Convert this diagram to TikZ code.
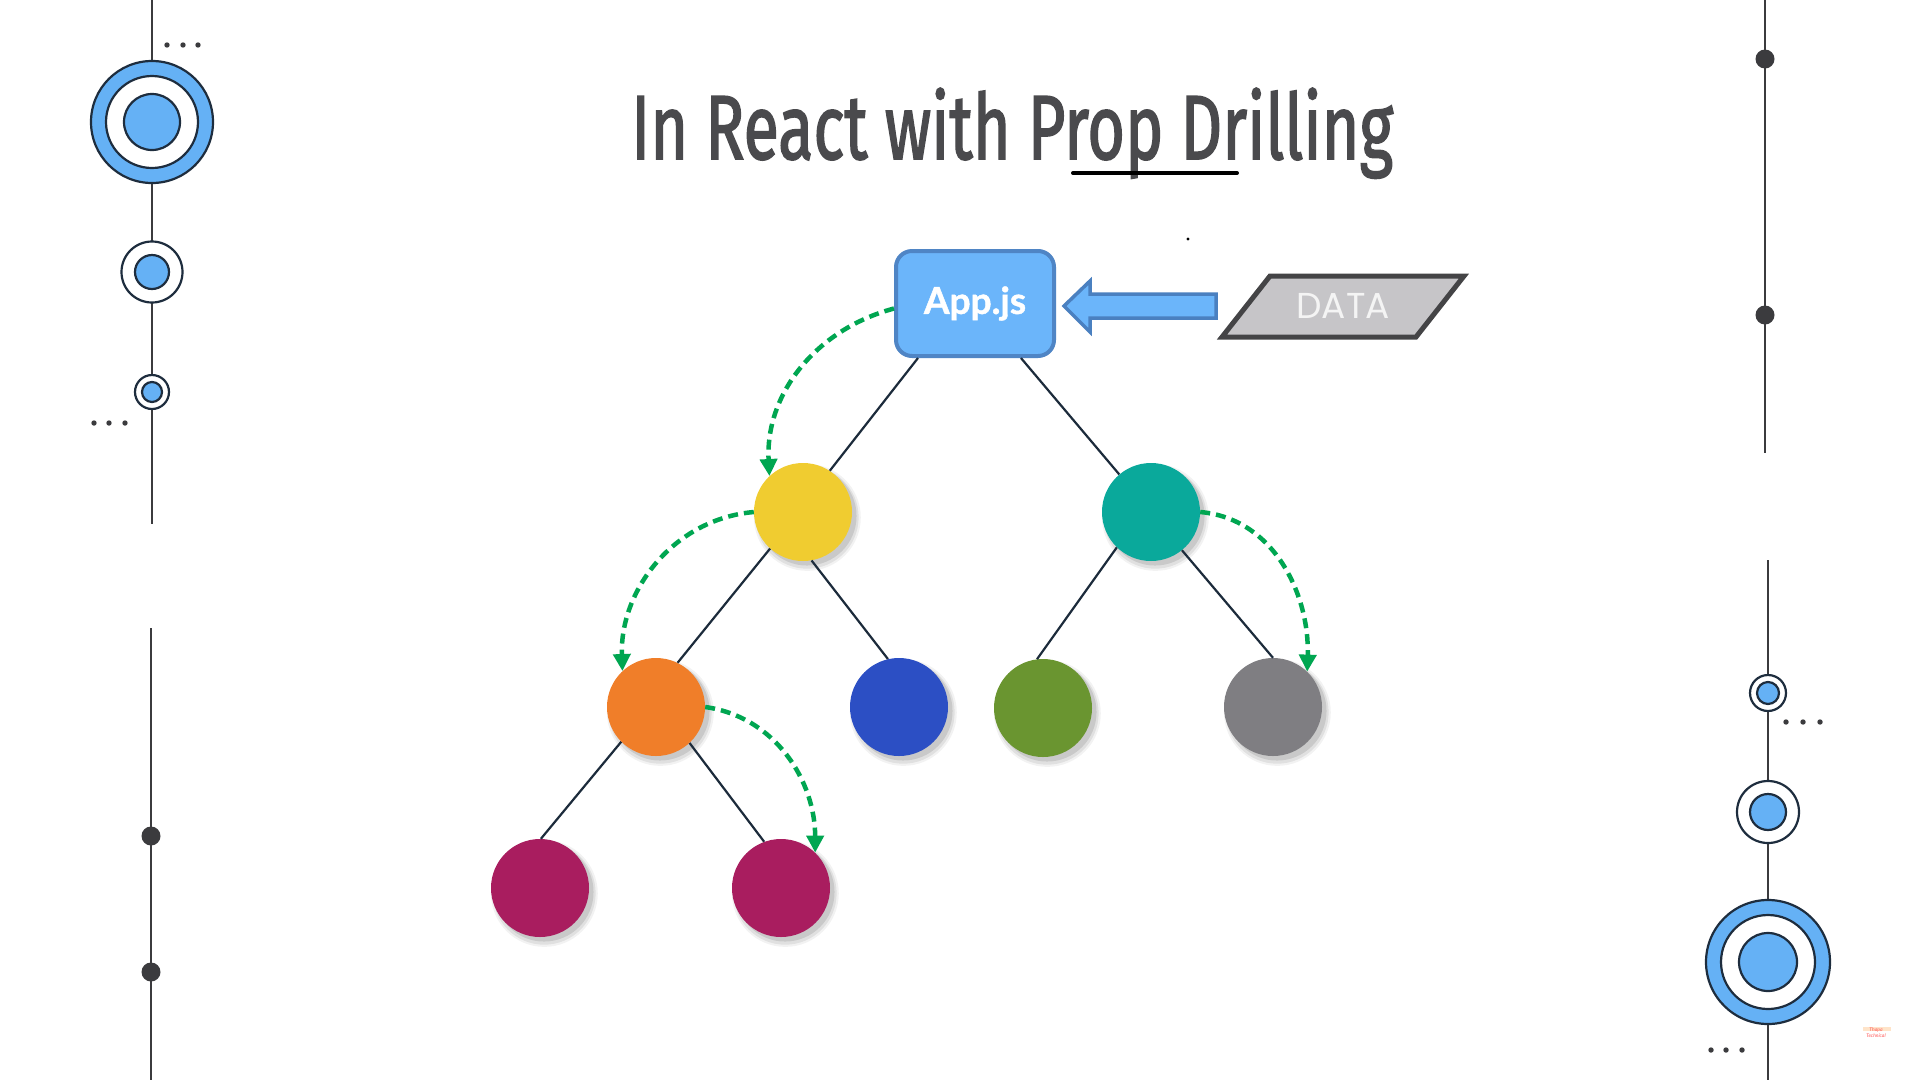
\documentclass[tikz,border=0pt]{standalone}
\usepackage{fontspec}
\usepackage{graphicx}
\usetikzlibrary{arrows.meta,shadows}
\setmainfont{Lato}
\newfontfamily\titlefont{Fira Sans}[FakeBold=2]
\newfontfamily\appfont{Lato}[BoldFeatures={FakeBold=1.2}]
\newfontfamily\datafont{Poppins}
\definecolor{titlec}{HTML}{4A4A4D}
\definecolor{appfill}{HTML}{6BB5FA}
\definecolor{appborder}{HTML}{4F85C5}
\definecolor{arrowborder}{HTML}{4A80C0}
\definecolor{datafill}{HTML}{C6C5C8}
\definecolor{databorder}{HTML}{444446}
\definecolor{datatext}{HTML}{F4F4F4}
\definecolor{propgreen}{HTML}{00A651}
\definecolor{edgec}{HTML}{1C2B3B}
\definecolor{decoblue}{HTML}{65B1F5}
\definecolor{decoborder}{HTML}{1E2D3E}
\definecolor{decoline}{HTML}{3B3B3E}
\definecolor{cyellow}{HTML}{F0CC30}
\definecolor{cteal}{HTML}{0AA99B}
\definecolor{corange}{HTML}{F07E29}
\definecolor{cblue}{HTML}{2C4FC4}
\definecolor{cgreen}{HTML}{6A9530}
\definecolor{cgray}{HTML}{7F7E82}
\definecolor{cmagenta}{HTML}{A91D5F}
\begin{document}
\begin{tikzpicture}[x=1pt,y=1pt,
  softshadow/.style={
    general shadow={shadow xshift=4pt,shadow yshift=-5pt,shadow scale=1.09,fill=black,opacity=0.05},
    general shadow={shadow xshift=4pt,shadow yshift=-5pt,shadow scale=1.05,fill=black,opacity=0.07},
    general shadow={shadow xshift=4pt,shadow yshift=-4pt,shadow scale=1.01,fill=black,opacity=0.10}},
  treenode/.style={circle, minimum size=98pt, inner sep=0pt, draw=none, softshadow},
  treeedge/.style={draw=edgec, line width=2.2pt},
  propflow/.style={draw=propgreen, line width=4.5pt, dash pattern=on 10pt off 6pt,
    -{Triangle[length=17pt,width=17pt]}},
  appbox/.style={rectangle, rounded corners=16pt, minimum width=158pt, minimum height=105pt,
    fill=appfill, draw=appborder, line width=4pt, text=white, inner sep=0pt,
    font=\appfont\fontsize{37}{40}\selectfont\bfseries},
  decoring/.style={circle, draw=decoborder, line width=2.2pt, inner sep=0pt},
  decorule/.style={draw=decoline, line width=2.6pt},
  dotc/.style={fill=decoline}
]
\useasboundingbox (0,0) rectangle (1920,-1080);
\fill[white] (0,0) rectangle (1920,-1080);

% ---------- left decoration ----------
\coordinate (lt0) at (152,0);
\coordinate (lt1) at (152,-524);
\draw[decorule] (lt0) -- (lt1);
\node[decoring, fill=decoblue, minimum size=122pt] (lbig) at (152,-122) {};
\node[decoring, fill=white, minimum size=92pt] (lbigring) at (152,-122) {};
\node[decoring, fill=decoblue, minimum size=56pt] (lbigin) at (152,-122) {};
\node[decoring, fill=white, minimum size=61pt] (lmed) at (152,-272) {};
\node[decoring, fill=decoblue, minimum size=34pt] (lmedin) at (152,-272) {};
\node[decoring, fill=white, minimum size=34pt] (lsmall) at (152,-392) {};
\node[decoring, fill=decoblue, minimum size=20pt] (lsmallin) at (152,-392) {};
\foreach \x in {167,183,198} \fill[dotc] (\x,-45) circle[radius=2.7pt];
\foreach \x in {94,109,125} \fill[dotc] (\x,-423) circle[radius=2.7pt];

\coordinate (lb0) at (151,-628);
\coordinate (lb1) at (151,-1080);
\draw[decorule] (lb0) -- (lb1);
\fill[dotc] (151,-836) circle[radius=9.5pt];
\fill[dotc] (151,-972) circle[radius=9.5pt];

% ---------- right decoration ----------
\coordinate (rt0) at (1765,0);
\coordinate (rt1) at (1765,-453);
\draw[decorule] (rt0) -- (rt1);
\fill[dotc] (1765,-59) circle[radius=9.5pt];
\fill[dotc] (1765,-315) circle[radius=9.5pt];

\coordinate (rb0) at (1768,-560);
\coordinate (rb1) at (1768,-1080);
\draw[decorule] (rb0) -- (rb1);
\node[decoring, fill=white, minimum size=36pt] (rsmall) at (1768,-693) {};
\node[decoring, fill=decoblue, minimum size=22pt] (rsmallin) at (1768,-693) {};
\node[decoring, fill=white, minimum size=62pt] (rmed) at (1768,-812) {};
\node[decoring, fill=decoblue, minimum size=36pt] (rmedin) at (1768,-812) {};
\node[decoring, fill=decoblue, minimum size=124pt] (rbig) at (1768,-962) {};
\node[decoring, fill=white, minimum size=94pt] (rbigring) at (1768,-962) {};
\node[decoring, fill=decoblue, minimum size=58pt] (rbigin) at (1768,-962) {};
\foreach \x in {1786,1803,1820} \fill[dotc] (\x,-722) circle[radius=2.7pt];
\foreach \x in {1711,1726,1742} \fill[dotc] (\x,-1050) circle[radius=2.7pt];

% watermark
\fill[orange!35, opacity=0.6] (1863,-1027) rectangle (1891,-1031);
\node[text=red!55!pink, align=center, inner sep=0pt,
  font=\fontsize{5}{6}\selectfont\itshape] (wm) at (1876,-1033) {Thapa\\Technical};

% ---------- title ----------
\node[anchor=base west, inner sep=0pt, text=titlec] (title) at (631,-159)
  {\resizebox{762pt}{\height}{\fontsize{91}{95}\selectfont\titlefont In React with Prop Drilling}};
\coordinate (ul0) at (1073,-173);
\coordinate (ul1) at (1237,-173);
\draw[line width=4pt, line cap=round] (ul0) -- (ul1);

% ---------- App.js, arrow, DATA ----------
\node[appbox, general shadow={shadow xshift=0pt,shadow yshift=-6pt,shadow scale=0.92,fill=black,opacity=0.08}] (app) at (975,-303.5) {App.js};

\draw[fill=appfill, draw=arrowborder, line width=3.5pt, line join=miter]
  (1064,-306) -- (1090,-281) -- (1090,-294) -- (1216,-294) -- (1216,-318)
  -- (1090,-318) -- (1090,-332) -- cycle;

\draw[fill=datafill, draw=databorder, line width=5pt, line join=miter]
  (1270,-276) -- (1464,-276) -- (1416,-337) -- (1222,-337) -- cycle;
\node[text=datatext, inner sep=0pt, font=\datafont\fontsize{36}{38}\selectfont] (data) at (1343,-306) {DATA};

\fill (1188,-239) circle[radius=1.6pt];

% ---------- tree ----------
\node[treenode, fill=cyellow] (yellow) at (803,-512) {};
\node[treenode, fill=cteal] (teal) at (1151,-512) {};
\node[treenode, fill=corange] (orange) at (656,-707) {};
\node[treenode, fill=cblue] (blue) at (899,-707) {};
\node[treenode, fill=cgreen] (green) at (1043,-708) {};
\node[treenode, fill=cgray] (gray) at (1273,-707) {};
\node[treenode, fill=cmagenta] (mag1) at (540,-888) {};
\node[treenode, fill=cmagenta] (mag2) at (781,-888) {};

\draw[treeedge] ([xshift=-57pt]app.south) -- (yellow.57);
\draw[treeedge] (app) -- (teal);
\draw[treeedge] (yellow.228) -- (orange.64);
\draw[treeedge] (yellow.-80) -- (blue.103);
\draw[treeedge] (teal.226) -- (green.97);
\draw[treeedge] (teal.-51) -- (gray.90);
\draw[treeedge] (orange.225) -- (mag1.89);
\draw[treeedge] (orange.-47) -- (mag2.110);

% ---------- prop drilling arrows ----------
\draw[propflow] ([yshift=-5pt]app.west) to[out=195, in=93] (yellow.133);
\draw[propflow] (yellow.west) to[out=185, in=92] (orange.133);
\draw[propflow] (teal.east) to[out=-5, in=88] (gray.46);
\draw[propflow] (orange.east) to[out=-8, in=90] (mag2.46);
\end{tikzpicture}
\end{document}
